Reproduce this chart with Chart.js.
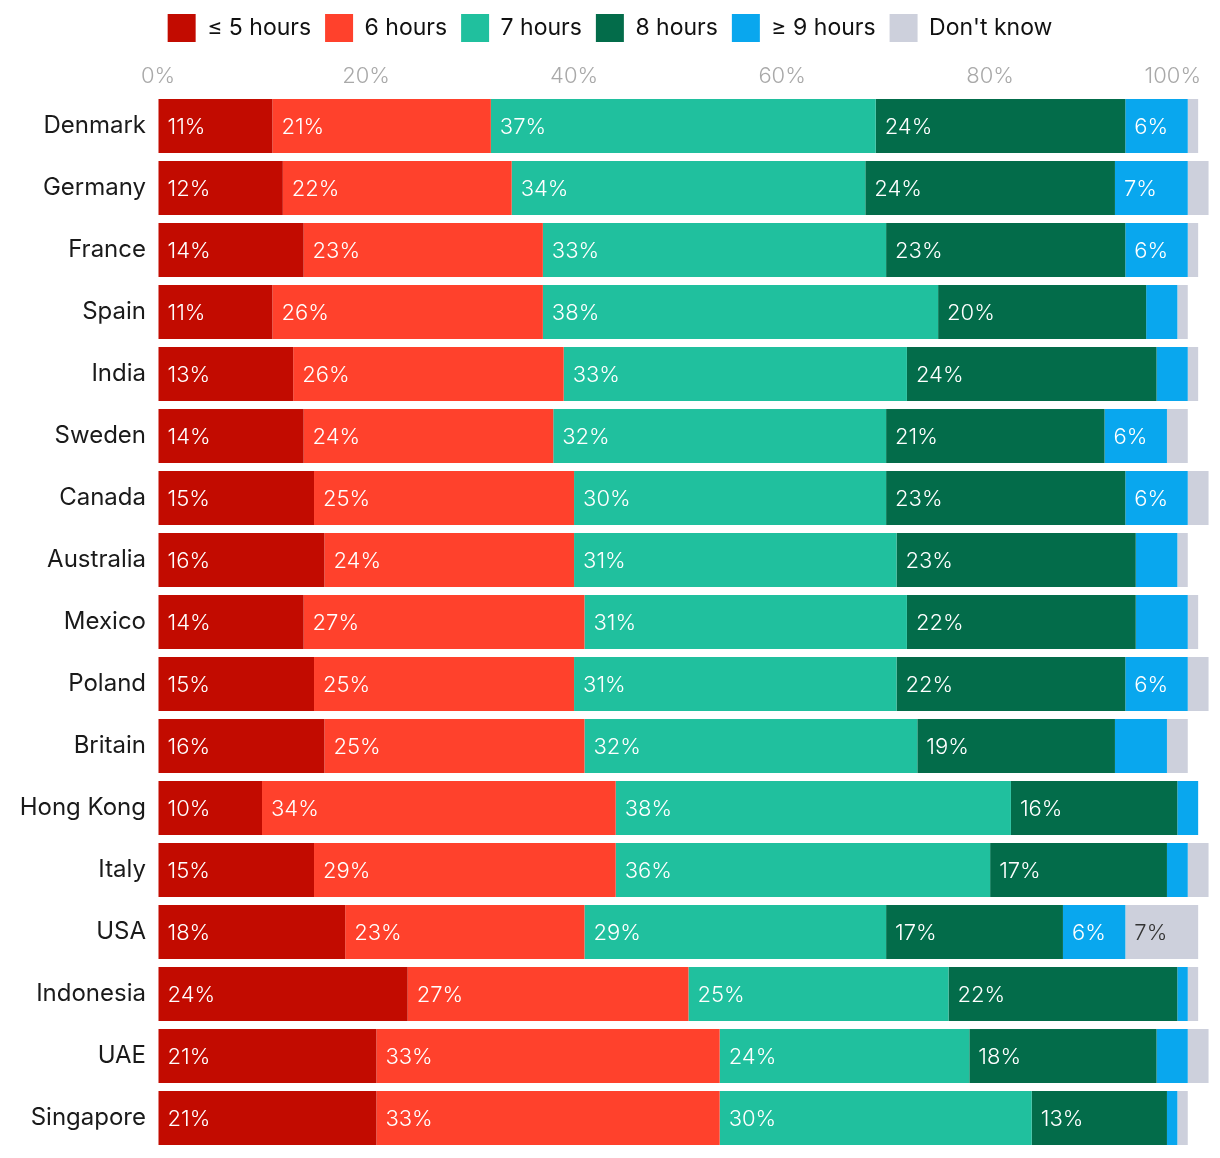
<!DOCTYPE html>
<html>
<head>
<meta charset="utf-8">
<script src="https://cdn.jsdelivr.net/npm/chart.js@4"></script>
<style>
  html, body { margin: 0; padding: 0; background: #fff; }
  #wrap { position: relative; width: 1220px; height: 1158px; }
</style>
</head>
<body>
<div id="wrap"><canvas id="c"></canvas></div>
<script>
// ---- Data (percent of respondents) ----
const countries = ['Denmark','Germany','France','Spain','India','Sweden','Canada','Australia','Mexico','Poland','Britain','Hong Kong','Italy','USA','Indonesia','UAE','Singapore'];
const seriesNames = ['\u2264 5 hours','6 hours','7 hours','8 hours','\u2265 9 hours',"Don't know"];
const le5  = [11,12,14,11,13,14,15,16,14,15,16,10,15,18,24,21,21];
const h6   = [21,22,23,26,26,24,25,24,27,25,25,34,29,23,27,33,33];
const h7   = [37,34,33,38,33,32,30,31,31,31,32,38,36,29,25,24,30];
const h8   = [24,24,23,20,24,21,23,23,22,22,19,16,17,17,22,18,13];
const ge9  = [6,7,6,3,3,6,6,4,5,6,5,2,2,6,1,3,1];
const dk   = [1,2,1,1,1,2,2,1,1,2,2,0,2,7,1,2,1];
const tickValues = [0,20,40,60,80,100];

const colors = ['#C20B00','#FF412C','#20C09E','#036C4A','#09A7EE','#CDD0DC'];
const labelColors = ['#fff','#fff','#fff','#fff','#fff','#333'];
const FONT = 'Inter, "Noto Sans", sans-serif';

const seriesData = [le5, h6, h7, h8, ge9, dk];

const topTicks = {
  id: 'topTicks',
  afterDraw(chart) {
    const xs = chart.scales.x;
    const ctx = chart.ctx;
    ctx.save();
    ctx.font = '300 22px ' + FONT;
    ctx.fillStyle = '#A9A9A9';
    ctx.textBaseline = 'middle';
    tickValues.forEach(v => {
      const px = xs.getPixelForValue(v);
      const txt = v + '%';
      const w = ctx.measureText(txt).width;
      let x = px - w / 2;
      if (x + w > chart.width - 19) x = chart.width - 19 - w;
      ctx.textAlign = 'left';
      ctx.fillText(txt, x, 76);
    });
    ctx.restore();
  }
};

const barLabels = {
  id: 'barLabels',
  afterDraw(chart) {
    const ctx = chart.ctx;
    ctx.save();
    ctx.font = '300 22px ' + FONT;
    ctx.textBaseline = 'middle';
    ctx.textAlign = 'left';
    chart.data.datasets.forEach((ds, di) => {
      const meta = chart.getDatasetMeta(di);
      meta.data.forEach((el, i) => {
        const v = ds.data[i];
        if (v >= 6) {
          const left = Math.min(el.base, el.x);
          ctx.fillStyle = labelColors[di];
          ctx.fillText(v + '%', left + 9, el.y + 1);
        }
      });
    });
    ctx.restore();
  }
};

new Chart(document.getElementById('c'), {
  type: 'bar',
  data: {
    labels: countries,
    datasets: seriesNames.map((name, i) => ({
      label: name,
      data: seriesData[i],
      backgroundColor: colors[i],
      borderWidth: 0,
      categoryPercentage: 1,
      barPercentage: 0.871
    }))
  },
  options: {
    indexAxis: 'y',
    responsive: true,
    maintainAspectRatio: false,
    animation: false,
    layout: { padding: { left: 0, right: 0, top: 0, bottom: 9 } },
    plugins: {
      legend: {
        position: 'top',
        labels: {
          boxWidth: 28,
          boxHeight: 28,
          padding: 14,
          color: '#111',
          font: { family: FONT, size: 23 }
        }
      },
      tooltip: { enabled: false }
    },
    scales: {
      x: {
        position: 'top',
        stacked: true,
        min: 0,
        max: 102.1,
        z: 1,
        afterBuildTicks: s => { s.ticks = tickValues.map(v => ({ value: v })); },
        afterFit: s => { s.height = 43; s.paddingLeft = 0; s.paddingRight = 0; },
        grid: { color: 'rgba(255,255,255,0.45)', lineWidth: 1, drawTicks: false },
        border: { display: false },
        ticks: { display: false }
      },
      y: {
        stacked: true,
        afterFit: s => { s.width = 158; s.paddingTop = 0; s.paddingBottom = 0; },
        grid: { display: false, drawTicks: false },
        border: { display: false },
        ticks: { color: '#1a1a1a', padding: 12, font: { family: FONT, size: 24 } }
      }
    }
  },
  plugins: [topTicks, barLabels]
});
</script>
</body>
</html>
